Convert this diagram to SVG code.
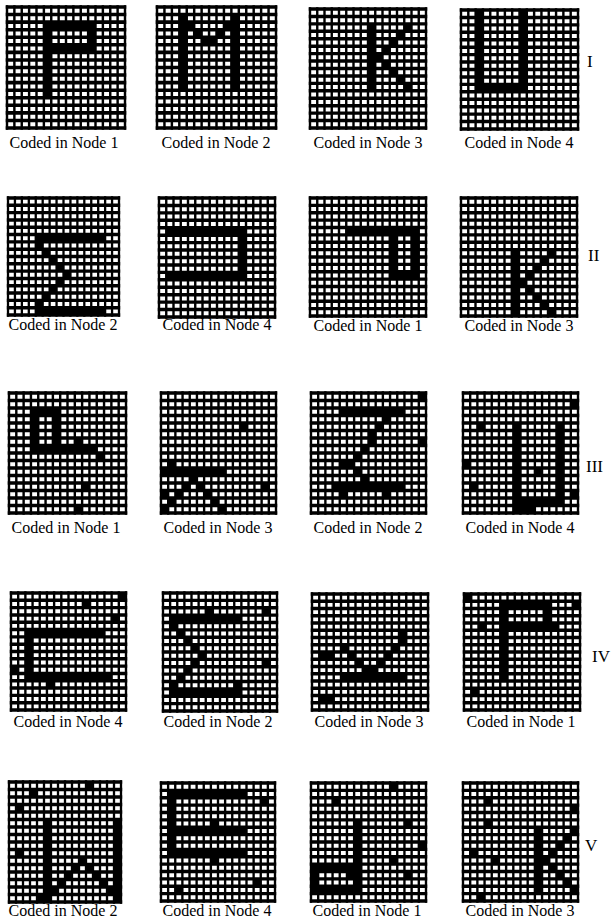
<svg xmlns="http://www.w3.org/2000/svg" xmlns:xlink="http://www.w3.org/1999/xlink" width="612" height="919" viewBox="0 0 612 919">
<style>
.lbl{font-family:"Liberation Serif","Times New Roman",serif;font-size:16px;text-anchor:middle;fill:#000}
.rn{font-family:"Liberation Serif","Times New Roman",serif;font-size:17px;fill:#000}
.on{fill:#000}
.vl{stroke:#000;stroke-width:0.33;fill:none}
.hl{stroke:#000;stroke-width:0.47;fill:none}
</style>
<defs>
<g id="grid">
<rect width="16" height="16" fill="#fff"/>
<path class="vl" d="M0 -0.24V16.24M1 -0.24V16.24M2 -0.24V16.24M3 -0.24V16.24M4 -0.24V16.24M5 -0.24V16.24M6 -0.24V16.24M7 -0.24V16.24M8 -0.24V16.24M9 -0.24V16.24M10 -0.24V16.24M11 -0.24V16.24M12 -0.24V16.24M13 -0.24V16.24M14 -0.24V16.24M15 -0.24V16.24M16 -0.24V16.24"/>
<path class="hl" d="M-0.17 0H16.17M-0.17 1H16.17M-0.17 2H16.17M-0.17 3H16.17M-0.17 4H16.17M-0.17 5H16.17M-0.17 6H16.17M-0.17 7H16.17M-0.17 8H16.17M-0.17 9H16.17M-0.17 10H16.17M-0.17 11H16.17M-0.17 12H16.17M-0.17 13H16.17M-0.17 14H16.17M-0.17 15H16.17M-0.17 16H16.17"/>
</g>
</defs>
<rect width="612" height="919" fill="#fff"/>

<g id="I-1"><g transform="translate(7,7) scale(7.375,7.5625)"><use href="#grid"/><path class="on" d="M5 2h7v1h-7z M5 2h1v10h-1z M11 2h1v4h-1z M5 5h7v1h-7z"/></g><text class="lbl" x="64" y="148">Coded in Node 1</text></g>
<g id="I-2"><g transform="translate(157,7) scale(7.4375,7.5625)"><use href="#grid"/><path class="on" d="M3 1h1v10h-1z M10 1h1v10h-1z M4 2h1v1h-1z M9 2h1v1h-1z M5 3h1v1h-1z M8 3h1v1h-1z M6 4h2v1h-2z"/></g><text class="lbl" x="216" y="148">Coded in Node 2</text></g>
<g id="I-3"><g transform="translate(310,9) scale(7.25,7.4375)"><use href="#grid"/><path class="on" d="M8 2h1v9h-1z M13 2h1v1h-1z M12 3h1v1h-1z M11 4h1v1h-1z M10 5h1v1h-1z M9 6h1v1h-1z M10 7h1v1h-1z M11 8h1v1h-1z M12 9h1v1h-1z M13 10h1v1h-1z"/></g><text class="lbl" x="368" y="148">Coded in Node 3</text></g>
<g id="I-4"><g transform="translate(461,10) scale(7.3125,7.4375)"><use href="#grid"/><path class="on" d="M2 0h1v11h-1z M8 0h1v11h-1z M2 10h7v1h-7z"/></g><text class="lbl" x="519" y="148">Coded in Node 4</text></g>

<g id="II-1"><g transform="translate(8,198) scale(6.9375,7.3125)"><use href="#grid"/><path class="on" d="M4 5h10v1h-10z M4 15h10v1h-10z M4 6h1v1h-1z M5 7h1v1h-1z M6 8h1v1h-1z M7 9h1v1h-1z M8 10h1v1h-1z M7 11h1v1h-1z M6 12h1v1h-1z M5 13h1v1h-1z M4 14h1v1h-1z"/></g><text class="lbl" x="63" y="330">Coded in Node 2</text></g>
<g id="II-2"><g transform="translate(159,198) scale(7.25,7.4375)"><use href="#grid"/><path class="on" d="M1 4h11v1h-11z M11 4h1v7h-1z M1 10h11v1h-11z"/></g><text class="lbl" x="217" y="330">Coded in Node 4</text></g>
<g id="II-3"><g transform="translate(310,198) scale(7.25,7.375)"><use href="#grid"/><path class="on" d="M5 4h10v1h-10z M11 4h1v7h-1z M14 4h1v7h-1z M11 10h4v1h-4z"/></g><text class="lbl" x="368" y="331">Coded in Node 1</text></g>
<g id="II-4"><g transform="translate(461,198) scale(7.25,7.375)"><use href="#grid"/><path class="on" d="M7 7h1v9h-1z M8 11h1v1h-1z M9 10h1v1h-1z M10 9h1v1h-1z M11 8h1v1h-1z M12 7h1v1h-1z M9 12h1v1h-1z M10 13h1v1h-1z M11 14h1v1h-1z M12 15h1v1h-1z"/></g><text class="lbl" x="519" y="331">Coded in Node 3</text></g>

<g id="III-1"><g transform="translate(9,393) scale(7.3125,7.5)"><use href="#grid"/><path class="on" d="M3 2h4v1h-4z M3 2h1v6h-1z M6 2h1v6h-1z M3 7h9v1h-9z M9 6h1v1h-1z M12 8h1v1h-1z M10 12h1v1h-1z M9 15h1v1h-1z"/></g><text class="lbl" x="66" y="533">Coded in Node 1</text></g>
<g id="III-2"><g transform="translate(161,393) scale(7.1875,7.5)"><use href="#grid"/><path class="on" d="M0 10h9v1h-9z M4 11h1v1h-1z M3 12h1v1h-1z M2 13h1v1h-1z M1 14h1v1h-1z M0 15h1v1h-1z M5 12h1v1h-1z M6 13h1v1h-1z M7 14h1v1h-1z M8 15h1v1h-1z M11 4h1v1h-1z M1 9h1v1h-1z M14 12h1v1h-1z M0 13h1v1h-1z"/></g><text class="lbl" x="218" y="533">Coded in Node 3</text></g>
<g id="III-3"><g transform="translate(311,393) scale(7.1875,7.5)"><use href="#grid"/><path class="on" d="M4 2h9v1h-9z M10 3h1v1h-1z M9 4h1v1h-1z M8 5h1v2h-1z M7 7h1v1h-1z M6 8h1v1h-1z M4 9h2v1h-2z M6 10h1v1h-1z M7 11h1v1h-1z M3 12h10v1h-10z M4 13h1v1h-1z M10 13h1v1h-1z M15 0h1v1h-1z M15 6h1v1h-1z"/></g><text class="lbl" x="368" y="533">Coded in Node 2</text></g>
<g id="III-4"><g transform="translate(463,393) scale(7.1875,7.5)"><use href="#grid"/><path class="on" d="M7 4h1v11h-1z M13 4h1v11h-1z M7 14h7v1h-7z M7 15h3v1h-3z M15 1h1v1h-1z M2 4h1v1h-1z M0 9h1v1h-1z M10 10h1v1h-1z M1 12h1v1h-1z M15 13h1v1h-1z"/></g><text class="lbl" x="520" y="533">Coded in Node 4</text></g>

<g id="IV-1"><g transform="translate(11,593) scale(7.1875,7.3125)"><use href="#grid"/><path class="on" d="M2 5h11v1h-11z M2 5h1v7h-1z M2 11h12v1h-12z M15 0h1v1h-1z M10 1h1v1h-1z M14 3h1v1h-1z M0 10h1v1h-1z M5 12h1v1h-1z"/></g><text class="lbl" x="68" y="727">Coded in Node 4</text></g>
<g id="IV-2"><g transform="translate(163,593) scale(7.125,7.375)"><use href="#grid"/><path class="on" d="M1 3h10v1h-10z M1 13h10v1h-10z M1 4h1v1h-1z M2 5h1v1h-1z M3 6h1v1h-1z M4 7h1v1h-1z M5 8h1v1h-1z M4 9h1v1h-1z M3 10h1v1h-1z M2 11h1v1h-1z M1 12h1v1h-1z M6 2h1v1h-1z M14 2h1v1h-1z M14 9h1v1h-1z M10 12h1v1h-1z"/></g><text class="lbl" x="218" y="727">Coded in Node 2</text></g>
<g id="IV-3"><g transform="translate(312,594) scale(7.25,7.25)"><use href="#grid"/><path class="on" d="M4 11h9v1h-9z M4 7h1v1h-1z M5 8h1v1h-1z M6 9h1v1h-1z M7 10h2v1h-2z M9 9h1v1h-1z M10 8h1v1h-1z M11 7h1v1h-1z M12 5h1v2h-1z M1 8h2v1h-2z M1 14h2v1h-2z"/></g><text class="lbl" x="369" y="727">Coded in Node 3</text></g>
<g id="IV-4"><g transform="translate(464,594) scale(7.25,7.25)"><use href="#grid"/><path class="on" d="M5 1h7v1h-7z M5 1h1v11h-1z M11 1h1v4h-1z M5 4h8v1h-8z M0 0h1v1h-1z M2 4h1v1h-1z M15 1h1v1h-1z M1 13h1v1h-1z"/></g><text class="lbl" x="521" y="727">Coded in Node 1</text></g>

<g id="V-1"><g transform="translate(9,782) scale(7,7.5)"><use href="#grid"/><path class="on" d="M5 5h1v11h-1z M15 5h1v11h-1z M6 14h1v1h-1z M7 13h1v1h-1z M8 12h1v1h-1z M9 11h1v1h-1z M10 10h1v1h-1z M11 11h1v1h-1z M12 12h1v1h-1z M13 13h1v1h-1z M14 14h1v1h-1z M11 0h1v1h-1z M3 1h1v1h-1z M1 3h1v1h-1z M1 9h1v1h-1z M4 15h1v1h-1z"/></g><text class="lbl" x="63" y="916">Coded in Node 2</text></g>
<g id="V-2"><g transform="translate(161,783) scale(7.125,7.375)"><use href="#grid"/><path class="on" d="M1 1h1v9h-1z M1 1h11v1h-11z M1 6h11v1h-11z M1 9h11v1h-11z M14 2h1v1h-1z M7 5h1v1h-1z M7 10h1v1h-1z M13 13h1v1h-1z M2 14h1v1h-1z"/></g><text class="lbl" x="217" y="916">Coded in Node 4</text></g>
<g id="V-3"><g transform="translate(311,783) scale(7.1875,7.375)"><use href="#grid"/><path class="on" d="M6 5h1v10h-1z M0 11h7v1h-7z M0 11h1v4h-1z M0 14h7v1h-7z M11 0h1v1h-1z M3 2h1v1h-1z M13 5h1v1h-1z M15 8h1v1h-1z M11 10h1v1h-1z M5 12h1v1h-1z M13 12h1v1h-1z"/></g><text class="lbl" x="367" y="916">Coded in Node 1</text></g>
<g id="V-4"><g transform="translate(463,783) scale(7.1875,7.375)"><use href="#grid"/><path class="on" d="M10 6h1v9h-1z M11 10h1v1h-1z M12 9h1v1h-1z M13 8h1v1h-1z M14 7h1v1h-1z M15 6h1v1h-1z M12 11h1v1h-1z M13 12h1v1h-1z M14 13h1v1h-1z M15 14h1v1h-1z M3 2h1v1h-1z M15 3h1v1h-1z M3 5h1v1h-1z M1 9h1v1h-1z M4 10h1v1h-1z M2 15h1v1h-1z"/></g><text class="lbl" x="520" y="916">Coded in Node 3</text></g>

<g id="row-labels">
<text class="rn" x="587" y="67">I</text>
<text class="rn" x="588" y="261">II</text>
<text class="rn" x="586" y="472">III</text>
<text class="rn" x="592" y="662">IV</text>
<text class="rn" x="585" y="851">V</text>
</g>
</svg>
